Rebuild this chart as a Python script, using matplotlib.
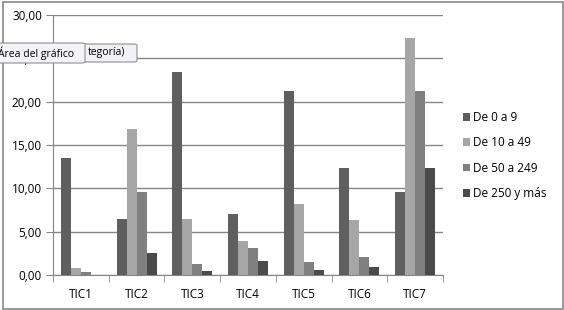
import matplotlib
matplotlib.use("Agg")
import matplotlib.pyplot as plt
import numpy as np
from matplotlib.patches import FancyBboxPatch, Rectangle

categories = ["TIC1", "TIC2", "TIC3", "TIC4", "TIC5", "TIC6", "TIC7"]
series_names = ["De 0 a 9", "De 10 a 49", "De 50 a 249", "De 250 y más"]
s_0_9 = [13.5, 6.5, 23.4, 7.0, 21.2, 12.3, 9.6]
s_10_49 = [0.8, 16.8, 6.5, 3.9, 8.2, 6.3, 27.3]
s_50_249 = [0.3, 9.6, 1.3, 3.1, 1.5, 2.1, 21.2]
s_250 = [0.0, 2.5, 0.5, 1.6, 0.6, 0.9, 12.4]
yticks = [0, 5, 10, 15, 20, 25, 30]
ytick_labels = ["0,00", "5,00", "10,00", "15,00", "20,00", "25,00", "30,00"]

colors = ["#5f5f5f", "#a6a6a6", "#808080", "#4a4a4a"]
plt.rcParams['font.family'] = ['Open Sans', 'DejaVu Sans']

fig = plt.figure(figsize=(5.64, 3.10), dpi=100)
fig.patch.set_facecolor("white")
# outer chart border
fig.add_artist(Rectangle((3/564, 1/310), 560/564, 307/310, transform=fig.transFigure,
                         fill=False, edgecolor="#888888", lw=1.2))

ax = fig.add_axes([53/564, 35/310, 390/564, 260/310])
x = np.arange(len(categories))
w = 0.18
for i, vals in enumerate([s_0_9, s_10_49, s_50_249, s_250]):
    ax.bar(x + (i - 1.5) * w, vals, width=w, color=colors[i], label=series_names[i], zorder=3)

ax.set_ylim(0, 30)
ax.set_xlim(-0.5, len(categories) - 0.5)
ax.set_yticks(yticks)
ax.set_yticklabels(ytick_labels, fontsize=8.5)
ax.set_xticks(x)
ax.set_xticklabels(categories, fontsize=8.5)
ax.tick_params(axis='x', length=0, pad=9)
ax.tick_params(axis='y', length=5, color="#868686", pad=3)
# minor ticks at category boundaries
ax.set_xticks(np.arange(-0.5, len(categories), 1), minor=True)
ax.tick_params(axis='x', which='minor', length=5, color="#868686")
ax.grid(axis='y', color="#868686", lw=1, zorder=0)
for s in ["top", "right"]:
    ax.spines[s].set_visible(False)
ax.spines["left"].set_color("#868686")
ax.spines["bottom"].set_color("#868686")

leg = fig.legend(loc="upper left", bbox_to_anchor=(463/564, 1 - 111/310), frameon=False,
                 fontsize=8.5, handlelength=0.6, handleheight=0.6, handletextpad=0.25,
                 labelspacing=1.05, borderpad=0, borderaxespad=0)

# tooltip boxes
fig.add_artist(FancyBboxPatch((60/564, 1 - 62/310), 77/564, 18/310, transform=fig.transFigure,
                              boxstyle="round,pad=0,rounding_size=0.005", facecolor="#f2f2f6",
                              edgecolor="#909090", lw=0.8, zorder=10))
fig.text(88/564, 1 - 53/310, "tegoría)", fontsize=7.5, va="center", ha="left", zorder=11)
fig.add_artist(FancyBboxPatch((-5/564, 1 - 63/310), 90/564, 20/310, transform=fig.transFigure,
                              boxstyle="round,pad=0,rounding_size=0.005", facecolor="#f4f4f8",
                              edgecolor="#909090", lw=0.8, zorder=12))
fig.text(-2/564, 1 - 53/310, "Área del gráfico", fontsize=7.5, va="center", ha="left", zorder=13)

fig.savefig("out.png", dpi=100)
